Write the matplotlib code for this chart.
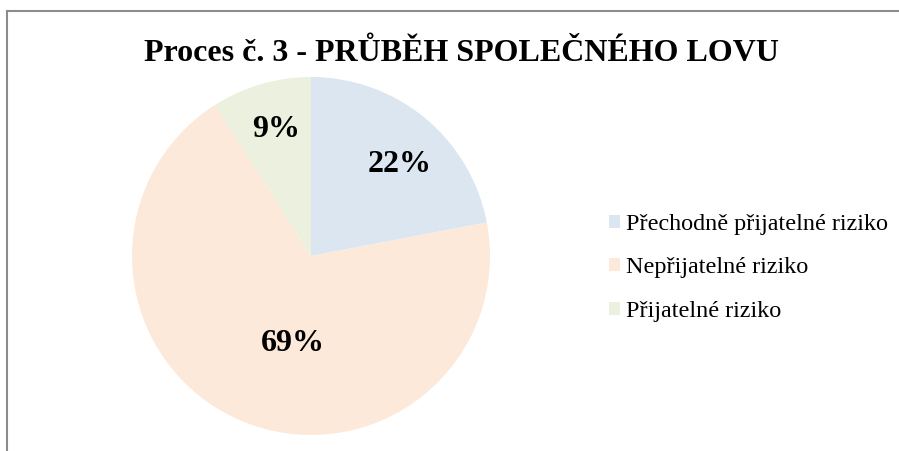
import numpy as np
import matplotlib.pyplot as plt
from matplotlib.lines import Line2D

# chart data
labels = ['Přechodně přijatelné riziko', 'Nepřijatelné riziko', 'Přijatelné riziko']
values = [22, 69, 9]
colors = ['#DCE6F1', '#FDE9D9', '#EBF1DE']
title = 'Proces č. 3 - PRŮBĚH SPOLEČNÉHO LOVU'

W, H = 899, 451
fig = plt.figure(figsize=(W / 100, H / 100), dpi=100)
plt.rcParams['font.family'] = ['Liberation Serif', 'DejaVu Serif']

# frame of the chart area (top and left edges only visible)
fig.add_artist(Line2D([7 / W, 1], [1 - 11 / H, 1 - 11 / H], color='#8c8c8c', lw=1.5))
fig.add_artist(Line2D([7 / W, 7 / W], [0, 1 - 11 / H], color='#8c8c8c', lw=1.5))

# pie placed in pixels: centre (311, 256), radius 179
cx, cy, r = 311, 256, 179
ax = fig.add_axes([(cx - r) / W, (H - cy - r) / H, 2 * r / W, 2 * r / H])
wedges, texts, autotexts = ax.pie(values, colors=colors, startangle=90, counterclock=False,
                                  autopct='%1.0f%%', pctdistance=0.72,
                                  wedgeprops=dict(linewidth=0),
                                  textprops=dict(fontsize=23, fontweight='bold', color='black'))
ax.set_xlim(-1, 1)
ax.set_ylim(-1, 1)

# data label placement like the original (distance from centre, angle shift)
label_pos = [(0.725, -3.5), (0.48, 11.3), (0.75, -1.2)]
for w, t, (d, shift) in zip(wedges, autotexts, label_pos):
    mid = np.deg2rad((w.theta1 + w.theta2) / 2 + shift)
    t.set_position((d * np.cos(mid), d * np.sin(mid)))
    t.set_va('center_baseline')

fig.text(461.5 / W, 1 - 61 / H, title, ha='center', va='baseline', fontsize=23, fontweight='bold')

fig.legend(wedges, labels, loc='center left', bbox_to_anchor=(609 / W, 1 - 268 / H),
           frameon=False, fontsize=17.4, handlelength=0.45, handleheight=0.45,
           handletextpad=0.25, labelspacing=0.92, borderpad=0, borderaxespad=0)

fig.savefig('out.png', dpi=100)
